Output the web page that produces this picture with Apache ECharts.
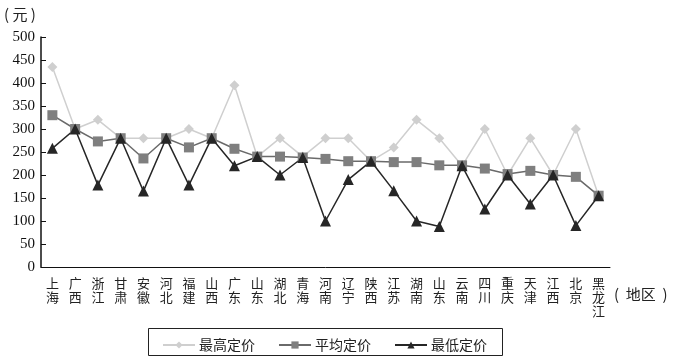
<!DOCTYPE html>
<html><head><meta charset="utf-8">
<script src="https://cdn.jsdelivr.net/npm/echarts@6/dist/echarts.min.js"></script>
<style>html,body{margin:0;padding:0;background:#fff}#c{width:674px;height:361px}</style>
</head><body><div id="c"></div>
<script>
const categories = ['上海','广西','浙江','甘肃','安徽','河北','福建','山西','广东','山东','湖北','青海','河南','辽宁','陕西','江苏','湖南','山东','云南','四川','重庆','天津','江西','北京','黑龙江'];
const highPrice = [435,300,320,280,280,280,300,280,395,240,280,240,280,280,230,260,320,280,220,300,200,280,200,300,155];
const avgPrice  = [330,300,273,280,236,280,260,280,257,240,240,238,235,230,230,228,228,221,221,214,202,209,200,196,155];
const lowPrice  = [258,300,178,280,165,280,178,280,220,240,200,238,100,190,230,166,100,88,220,126,200,137,200,90,155];
const yTicks = [0,50,100,150,200,250,300,350,400,450,500];

const serif = '"Liberation Serif","DejaVu Serif",serif';
const cjk = '"Noto Sans CJK SC","Noto Sans CJK JP",sans-serif';
const chart = echarts.init(document.getElementById('c'));
chart.setOption({
  animation: false,
  backgroundColor: '#fff',
  grid: {left: 41, right: 64, top: 37, bottom: 94},
  graphic: [
    {type: 'text', left: 4, top: 7, style: {text: '( 元 )', font: '15px ' + cjk, fill: '#222'}},
    {type: 'text', left: 614, top: 287, style: {text: '(  地区  )', font: '15px ' + cjk, fill: '#222'}},
    {type: 'rect', shape: {x: 148.5, y: 328.5, width: 354, height: 27}, style: {fill: 'none', stroke: '#222', lineWidth: 1}}
  ],
  legend: {
    top: 333, left: 157, itemGap: 23, itemWidth: 32, itemHeight: 9,
    textStyle: {fontFamily: cjk, fontSize: 14, color: '#222', padding: [0, 0, 0, -1]},
    data: ['最高定价', '平均定价', '最低定价']
  },
  xAxis: {
    type: 'category', data: categories, boundaryGap: true,
    axisLine: {lineStyle: {color: '#111', width: 1}},
    axisTick: {inside: true, length: 5, lineStyle: {color: '#111'}},
    axisLabel: {interval: 0, fontFamily: cjk, fontSize: 13, color: '#222', lineHeight: 14, margin: 9,
      formatter: v => v.split('').join('\n')}
  },
  yAxis: {
    type: 'value', min: 0, max: 500, interval: 50,
    axisLine: {show: true, lineStyle: {color: '#111', width: 1.5}},
    axisTick: {show: true, inside: true, length: 5, lineStyle: {color: '#111'}},
    splitLine: {show: false},
    axisLabel: {fontFamily: serif, fontSize: 15, color: '#111', margin: 6,
      formatter: v => yTicks.includes(v) ? String(v) : ''}
  },
  series: [
    {name: '最高定价', type: 'line', data: highPrice, symbol: 'diamond', symbolSize: 10,
      itemStyle: {color: '#cfcfcf'}, lineStyle: {color: '#cfcfcf', width: 1.5}},
    {name: '平均定价', type: 'line', data: avgPrice, symbol: 'rect', symbolSize: 10,
      itemStyle: {color: '#7f7f7f'}, lineStyle: {color: '#6a6a6a', width: 1.5}},
    {name: '最低定价', type: 'line', data: lowPrice, symbol: 'triangle', symbolSize: 11,
      itemStyle: {color: '#262626'}, lineStyle: {color: '#262626', width: 1.5}}
  ]
});
</script></body></html>
